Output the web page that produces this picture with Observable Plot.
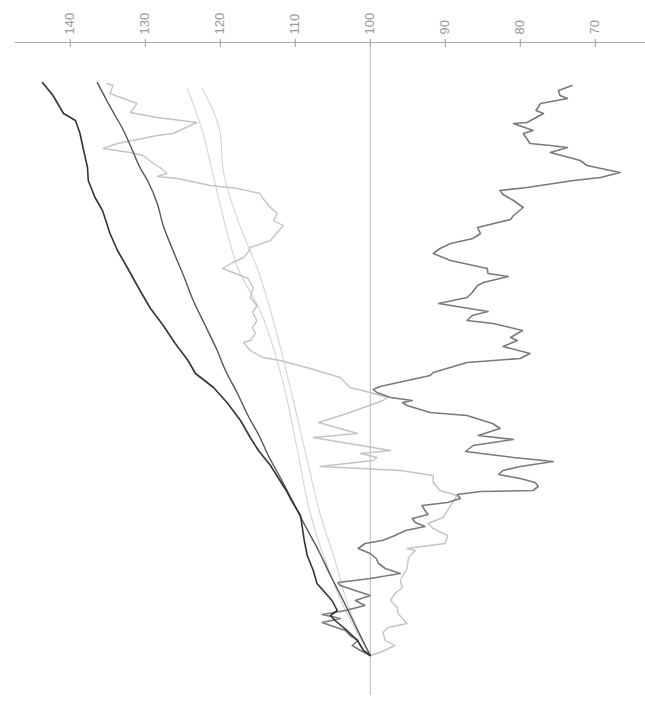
<!DOCTYPE html>
<html>
<head>
<meta charset="utf-8">
<script src="https://cdn.jsdelivr.net/npm/d3@7"></script>
<script src="https://cdn.jsdelivr.net/npm/@observablehq/plot@0.6"></script>
<style>
  html, body { margin: 0; padding: 0; background: #fff; }
  #chart svg { display: block; }
</style>
</head>
<body>
<div id="chart"></div>
<script>
// Index values (base = 100); day = trading-day index
const tickValues = [140, 130, 120, 110, 100, 90, 80, 70];
const baseLevel = 100;

// darkest, slightly jagged series
const darkDays = [0,5,15,25,35,40,45,55,72,85,100,115,130,140,155,165,178,190,205,218,235,253,268,282,295,312,330,347,365,388,405,422,445,458,475,488,508,522,535,542,560,573];
const darkVals = [100.0,100.9,101.7,103.1,104.7,105.3,104.4,105.1,107.1,107.6,108.4,108.8,109.1,109.3,110.5,111.2,112.3,113.3,114.9,116.0,117.3,119.1,120.9,123.3,124.3,126.0,127.6,129.3,130.7,132.4,133.7,134.7,135.7,136.7,137.6,137.7,138.3,138.7,139.3,140.9,142.3,143.7];

// dark gray smooth series
const smoothDays = [0,30,55,80,105,130,155,178,200,218,240,262,285,305,330,355,380,405,430,452,475,488,505,525,545,573];
const smoothVals = [100.0,102.0,103.6,105.3,106.9,108.7,110.4,112.0,113.6,114.7,116.3,117.7,119.3,120.4,122.0,123.6,124.9,126.3,127.6,128.4,129.7,130.7,131.7,132.9,134.4,136.4];

// two very light smooth series
const lightADays = [0,45,95,142,205,275,345,388,418,485,525,567];
const lightAVals = [100.0,103.3,106.0,108.0,109.7,111.7,114.7,117.7,118.9,121.1,122.4,124.4];
const lightBDays = [0,45,95,142,205,275,345,388,428,485,522,567];
const lightBVals = [100.0,102.7,104.7,106.7,108.7,110.9,113.3,115.1,117.3,119.6,120.0,122.4];

// light gray volatile series
const lgDays = [0,3,10,15,23,28,32,42,48,55,62,68,75,87,98,105,107,112,120,127,132,138,145,160,165,173,180,185,189,195,198,202,205,218,222,233,242,255,258,263,268,278,287,295,298,305,313,315,322,328,335,343,350,358,368,377,383,387,393,398,403,408,415,430,435,442,448,457,462,467,470,477,479,482,488,492,500,503,507,512,520,522,533,538,543,552,557,562,570,572];
const lgVals = [100.0,98.7,96.7,98.0,98.3,97.6,95.1,96.3,96.4,97.3,96.7,95.7,96.0,95.1,94.9,94.0,95.1,90.0,89.7,91.6,92.3,90.3,89.7,88.4,90.7,91.6,91.6,96.0,106.7,99.6,99.1,101.3,97.3,107.6,101.7,106.9,103.1,98.3,97.7,100.0,102.7,104.0,108.0,112.0,114.3,116.0,116.9,116.0,115.3,115.7,115.1,115.7,115.1,116.0,115.6,116.3,118.3,119.7,118.3,116.9,116.3,116.0,113.3,111.6,112.9,112.4,113.3,114.3,114.7,117.7,121.3,125.7,128.4,127.1,128.0,128.9,130.3,132.0,135.6,133.7,128.4,126.3,123.1,128.4,132.0,131.1,132.9,134.7,134.3,135.1];

// medium gray volatile series (falls below 100)
const mgDays = [0,5,10,15,20,25,30,33,37,41,45,50,55,60,65,70,73,77,82,87,92,97,102,107,112,115,120,125,129,133,137,141,145,150,153,157,161,164,165,169,173,177,181,185,189,194,198,204,210,216,220,227,232,240,243,250,253,255,258,263,266,269,280,283,293,297,302,309,315,318,325,332,335,340,344,352,358,363,370,373,379,382,387,395,402,407,412,417,422,428,436,440,448,455,461,465,468,475,478,483,490,495,503,508,510,512,522,525,532,533,542,545,552,557,560,565,570];
const mgVals = [100.0,101.3,102.4,101.6,102.7,103.3,105.3,106.4,104.0,106.4,103.3,100.7,102.0,100.0,102.0,104.0,104.3,100.0,96.0,98.0,98.9,99.2,100.0,101.6,100.7,98.4,96.7,95.3,92.7,94.0,94.4,92.3,92.7,93.1,89.7,88.0,88.4,85.3,78.3,77.6,78.0,80.0,82.9,82.3,80.0,75.6,80.9,87.3,86.3,80.9,85.6,82.7,83.7,87.1,92.0,95.1,95.7,94.4,97.3,99.1,99.6,98.7,92.0,91.6,87.1,80.0,78.7,82.3,80.4,81.3,79.7,83.6,87.1,86.4,84.3,90.9,87.1,86.4,85.7,84.9,81.6,84.3,84.4,89.3,91.6,90.7,89.3,86.3,85.3,85.7,81.3,80.9,79.6,80.9,82.3,82.7,79.1,72.9,69.3,66.7,71.1,72.0,76.0,73.7,76.0,78.7,79.6,78.3,80.9,79.1,76.9,77.9,77.3,73.7,74.7,74.9,73.1];

const toRows = (days, vals) => days.map((d, i) => ({day: d, value: vals[i]}));
const dark = toRows(darkDays, darkVals);
const smooth = toRows(smoothDays, smoothVals);
const lightA = toRows(lightADays, lightAVals);
const lightB = toRows(lightBDays, lightBVals);
const lg = toRows(lgDays, lgVals);
const mg = toRows(mgDays, mgVals);

const chart = Plot.plot({
  width: 645,
  height: 701,
  marginLeft: 15,
  marginRight: 0,
  marginTop: 42,
  marginBottom: 6,
  style: {background: "#fff", fontFamily: "'Liberation Sans', Arial, sans-serif"},
  x: {domain: [147.3, 63.3], axis: null},
  y: {domain: [-40, 613], axis: null},
  marks: [
    Plot.frame({anchor: "top", stroke: "#aaa", strokeDasharray: "1,1"}),
    Plot.axisX({anchor: "top", ticks: tickValues, tickSize: 8, dy: 4, text: null, label: null, stroke: "#999"}),
    Plot.axisX({anchor: "top", ticks: tickValues, tickSize: 0, tickPadding: 8, tickRotate: -90,
      fontSize: 13, fill: "#999", label: null, tickFormat: d => String(d)}),
    Plot.ruleX([baseLevel], {stroke: "#bbb", strokeWidth: 1}),
    Plot.line(lightA, {x: "value", y: "day", stroke: "#d4d4d4", strokeWidth: 1.1, curve: "monotone-y"}),
    Plot.line(lightB, {x: "value", y: "day", stroke: "#d4d4d4", strokeWidth: 1.1, curve: "monotone-y"}),
    Plot.line(lg, {x: "value", y: "day", stroke: "#c4c4c4", strokeWidth: 1.4}),
    Plot.line(mg, {x: "value", y: "day", stroke: "#7a7a7a", strokeWidth: 1.6}),
    Plot.line(smooth, {x: "value", y: "day", stroke: "#555", strokeWidth: 1.4, curve: "monotone-y"}),
    Plot.line(dark, {x: "value", y: "day", stroke: "#333", strokeWidth: 1.6})
  ]
});
document.getElementById("chart").appendChild(chart);
</script>
</body>
</html>
